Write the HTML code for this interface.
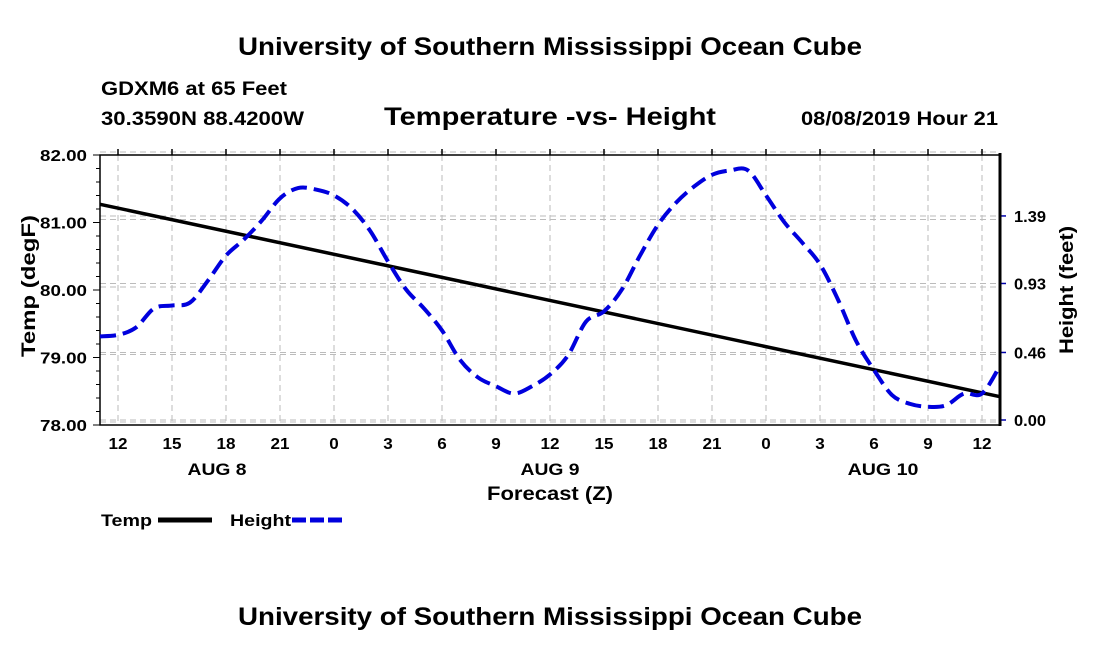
<!DOCTYPE html>
<html><head><meta charset="utf-8"><style>
body{margin:0;background:#fff;width:1100px;height:650px;overflow:hidden}
svg text{font-family:"Liberation Sans",sans-serif;font-weight:bold;fill:#000}
</style></head><body>
<svg id="c" width="1100" height="650">
<text x="238" y="55" font-size="25" textLength="624" lengthAdjust="spacingAndGlyphs">University of Southern Mississippi Ocean Cube</text>
<text x="101" y="95" font-size="19" textLength="186" lengthAdjust="spacingAndGlyphs">GDXM6 at 65 Feet</text>
<text x="101" y="125" font-size="19" textLength="203" lengthAdjust="spacingAndGlyphs">30.3590N 88.4200W</text>
<text x="384" y="125" font-size="25" textLength="332" lengthAdjust="spacingAndGlyphs">Temperature -vs- Height</text>
<text x="801" y="125" font-size="19" textLength="197" lengthAdjust="spacingAndGlyphs">08/08/2019 Hour 21</text>
<g id="grid"></g>
<g id="axes"></g>
<g id="series"></g>
<text x="0" y="0" font-size="19" textLength="142" lengthAdjust="spacingAndGlyphs" transform="translate(35,357) rotate(-90)">Temp (degF)</text>
<text x="0" y="0" font-size="19" textLength="128" lengthAdjust="spacingAndGlyphs" transform="translate(1073,354) rotate(-90)">Height (feet)</text>
<text x="487" y="500" font-size="19" textLength="126" lengthAdjust="spacingAndGlyphs">Forecast (Z)</text>
<g>
<text x="101" y="526" font-size="17" textLength="51" lengthAdjust="spacingAndGlyphs">Temp</text>
<line x1="158" y1="520" x2="212" y2="520" stroke="#000" stroke-width="5"/>
<text x="230" y="526" font-size="17" textLength="61" lengthAdjust="spacingAndGlyphs">Height</text>
<line x1="292" y1="520" x2="342" y2="520" stroke="#0000dd" stroke-width="5" stroke-dasharray="14,4"/>
</g>
<text x="238" y="625" font-size="25" textLength="624" lengthAdjust="spacingAndGlyphs">University of Southern Mississippi Ocean Cube</text>
</svg>
<script>
const tempTicks=[78,79,80,81,82];
const heightTicks=[0,0.46,0.93,1.39];
const xTickLabels=["12","15","18","21","0","3","6","9","12","15","18","21","0","3","6","9","12"];
const dayLabels=["AUG 8","AUG 9","AUG 10"];
const tempStart=81.27, tempEnd=78.42;
const heightValues=[0.57,0.58,0.63,0.76,0.78,0.80,0.95,1.12,1.23,1.36,1.51,1.58,1.57,1.53,1.44,1.29,1.08,0.89,0.76,0.61,0.41,0.29,0.23,0.18,0.23,0.31,0.44,0.67,0.74,0.89,1.12,1.33,1.48,1.59,1.67,1.70,1.70,1.53,1.35,1.21,1.06,0.82,0.54,0.34,0.17,0.11,0.09,0.10,0.18,0.18,0.37];
const L=100,R=1000,T=155,B=425;
const xs=h=>L+h*(R-L)/50;
const yT=v=>B-(v-78)*(B-T)/4;
const yH=v=>420-v*146.8;
const NS="http://www.w3.org/2000/svg";
function mk(tag,attrs,parent){const e=document.createElementNS(NS,tag);for(const k in attrs)e.setAttribute(k,attrs[k]);parent.appendChild(e);return e;}
const grid=document.getElementById('grid'),axes=document.getElementById('axes'),ser=document.getElementById('series');
xTickLabels.forEach((lab,i)=>{const x=xs(1+3*i);
 const g=mk('line',{x1:x,x2:x,y1:T,y2:B,stroke:'#bbb','stroke-dasharray':'6,4'},grid);
 
 const t=mk('line',{x1:x,x2:x,y1:T-6,y2:T,stroke:'#000','stroke-width':1.5},axes);
 
 const tx=mk('text',{x:x,y:449,'font-size':16,'text-anchor':'middle',textLength:lab.length*9.5,lengthAdjust:'spacingAndGlyphs'},axes);tx.textContent=lab;
 });
dayLabels.forEach((d,i)=>{const tx=mk('text',{x:xs(6.5+18.5*i),y:475,'font-size':17,'text-anchor':'middle',textLength:d.length*11.8,lengthAdjust:'spacingAndGlyphs'},axes);tx.textContent=d;
 });
tempTicks.forEach(v=>{const y=yT(v);
 const g=mk('line',{x1:L,x2:R,y1:y-3,y2:y-3,stroke:'#bbb','stroke-dasharray':'6,4'},grid);
 
 const tx=mk('text',{x:40,y:y+6,'font-size':16,textLength:47,lengthAdjust:'spacingAndGlyphs'},axes);tx.textContent=v.toFixed(2);
 });
for(let v=78;v<=82.001;v+=0.2){const y=yT(v);const m=mk('line',{x1:L-(Math.abs(v-Math.round(v))<0.01?7:4),x2:L,y1:y,y2:y,stroke:'#000'},axes);
 }
heightTicks.forEach(v=>{const y=yH(v);
 const g=mk('line',{x1:L,x2:R,y1:y,y2:y,stroke:'#bbb','stroke-dasharray':'6,4'},grid);
 
 const t=mk('line',{x1:R,x2:R+6,y1:y,y2:y,stroke:'#0000aa','stroke-width':1.5},axes);
 
 const tx=mk('text',{x:1014,y:y+6,'font-size':16,textLength:32,lengthAdjust:'spacingAndGlyphs'},axes);tx.textContent=v.toFixed(2);
 });
let f=mk('rect',{x:L,y:T,width:R-L,height:B-T,fill:'none',stroke:'#000','stroke-width':1.5},axes);

let ra=mk('line',{x1:R,x2:R,y1:T-2,y2:B+1,stroke:'#000','stroke-width':3},axes);

let tl=mk('line',{x1:xs(0),y1:yT(tempStart),x2:xs(50),y2:yT(tempEnd),stroke:'#000','stroke-width':3.5},ser);

const pts=heightValues.map((v,i)=>[xs(i),yH(v)]);
let d='M'+pts[0][0]+','+pts[0][1];
for(let i=0;i<pts.length-1;i++){const p0=pts[Math.max(0,i-1)],p1=pts[i],p2=pts[i+1],p3=pts[Math.min(pts.length-1,i+2)];
 d+=` C${p1[0]+(p2[0]-p0[0])/6},${p1[1]+(p2[1]-p0[1])/6} ${p2[0]-(p3[0]-p1[0])/6},${p2[1]-(p3[1]-p1[1])/6} ${p2[0]},${p2[1]}`;}
let hl=mk('path',{d:d,fill:'none',stroke:'#0000dd','stroke-width':4,'stroke-dasharray':'16,7'},ser);

</script>
</body></html>
